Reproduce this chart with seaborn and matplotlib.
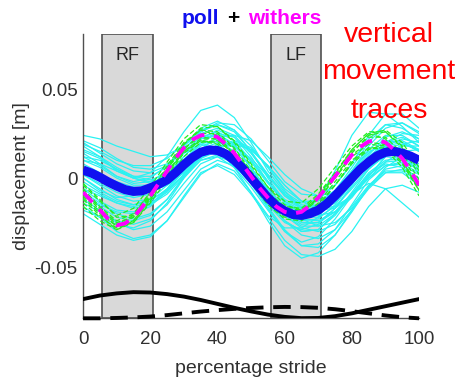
import numpy as np
import pandas as pd
import matplotlib
matplotlib.use("Agg")
import matplotlib.pyplot as plt
import seaborn as sns
from matplotlib.offsetbox import TextArea, HPacker, AnchoredOffsetbox

# ---------------- data (displacement in mm) ----------------
stride_pct = [0, 5, 10, 15, 20, 25, 30, 35, 40, 45, 50, 55, 60, 65, 70, 75, 80, 85, 90, 95, 100]
stride_pct_fine = [0, 2.5, 5, 7.5, 10, 12.5, 15, 17.5, 20, 22.5, 25, 27.5, 30, 32.5, 35, 37.5,
                   40, 42.5, 45, 47.5, 50, 52.5, 55, 57.5, 60, 62.5, 65, 67.5, 70, 72.5, 75,
                   77.5, 80, 82.5, 85, 87.5, 90, 92.5, 95, 97.5, 100]

poll_mean_mm = [4.5, 2.8, 0.5, -2.2, -4.5, -6.5, -7.5, -7.2, -5.5, -3.5, -1, 3, 7.5, 11.5, 14.5,
                15.8, 15.5, 13.5, 10, 5.5, 0, -5.5, -11, -15.5, -18.5, -20.5, -21, -20, -18,
                -14.5, -10, -5, 0, 5, 9, 12.5, 14.5, 15, 14, 12.3, 10]
withers_mean_mm = [-8, -13, -18, -23, -26.5, -25.5, -22, -16.5, -10, -3, 4, 11, 17, 21.5, 24,
                   24.5, 23, 19, 14, 7.5, 1, -5.5, -11, -16, -19, -20, -19, -15.5, -11, -5, 1,
                   7, 13, 17.5, 20.5, 21.5, 20, 16, 11, 4, -4]

poll_traces_mm = [
    [18, 12, 4, 0, 3, 12, 26, 38, 41, 34, 20, 4, -8, -14, -12, -4, 8, 22, 30, 28, 22],
    [24, 22, 18, 15, 12, 13, 18, 26, 31, 30, 22, 10, -2, -9, -10, -4, 8, 24, 36, 36, 28],
    [20, 14, 8, 4, 3, 7, 16, 25, 28, 24, 14, 1, -10, -16, -15, -8, 4, 16, 24, 24, 18],
    [14, 8, 1, -3, -2, 4, 14, 22, 24, 19, 9, -3, -13, -18, -16, -8, 3, 14, 21, 20, 15],
    [10, 6, 0, -4, -4, 0, 8, 16, 20, 18, 11, 1, -9, -15, -16, -11, -2, 9, 17, 19, 16],
    [8, 3, -3, -7, -7, -3, 5, 13, 16, 13, 5, -6, -16, -22, -22, -16, -6, 5, 13, 15, 12],
    [6, 2, -2, -5, -6, -3, 3, 11, 17, 19, 16, 7, -4, -13, -17, -16, -10, 0, 9, 15, 16],
    [2, -3, -8, -11, -9, -3, 7, 16, 18, 13, 2, -10, -19, -23, -20, -11, 0, 10, 15, 13, 8],
    [0, -6, -12, -15, -13, -6, 5, 14, 16, 10, -2, -15, -25, -29, -26, -17, -5, 6, 12, 11, 6],
    [-4, -9, -14, -17, -15, -9, 1, 10, 13, 9, -1, -13, -24, -30, -29, -21, -9, 3, 10, 11, 7],
    [-8, -14, -20, -23, -20, -12, 0, 10, 12, 6, -5, -18, -30, -36, -33, -23, -10, 2, 8, 6, 0],
    [-12, -18, -25, -29, -27, -19, -7, 5, 10, 7, -3, -16, -29, -38, -39, -32, -19, -5, 5, 7, 2],
    [-16, -22, -30, -34, -32, -24, -11, 2, 8, 4, -8, -24, -38, -45, -42, -32, -18, -5, 3, 3, -4],
    [-20, -26, -32, -35, -33, -24, -10, 3, 7, 2, -9, -22, -35, -43, -44, -40, -30, -16, -6, -4, -8],
    [-18, -22, -26, -28, -24, -14, 0, 12, 16, 12, 2, -10, -21, -28, -30, -26, -16, -4, 4, 4, -2],
    [0, -7, -11, -10, -5, 4, 14, 19, 16, 6, -8, -21, -28, -28, -22, -10, 4, 15, 18, 13, 3],
    [-6, -13, -18, -19, -15, -6, 6, 15, 17, 11, 0, -13, -24, -30, -29, -20, -9, -3, -6, -14, -22],
    [12, 10, 5, 0, -3, -2, 4, 12, 18, 20, 16, 7, -4, -13, -18, -17, -10, 1, 12, 19, 21],
    [16, 12, 6, 1, -1, 2, 10, 20, 25, 23, 14, 2, -9, -17, -19, -14, -3, 10, 20, 25, 24],
    [4, -1, -6, -8, -6, 0, 10, 19, 22, 17, 6, -7, -18, -24, -23, -15, -3, 10, 18, 20, 15],
    [-10, -15, -19, -20, -16, -7, 4, 13, 15, 11, 2, -9, -19, -25, -25, -19, -9, 2, 9, 10, 5],
    [10, 8, 4, 0, -2, 0, 7, 16, 23, 24, 21, 12, 2, -6, -10, -8, -1, 9, 18, 22, 20],
    [2, -4, -10, -13, -12, -7, 2, 11, 15, 12, 4, -7, -17, -23, -24, -19, -10, 0, 7, 9, 5],
    [-14, -19, -24, -26, -23, -15, -3, 8, 12, 9, 0, -12, -24, -32, -34, -29, -18, -6, 3, 5, 0],
    [21, 17, 11, 6, 5, 8, 15, 23, 26, 21, 10, -2, -12, -17, -15, -7, 6, 20, 30, 31, 25],
    [6, 2, -3, -6, -4, 2, 12, 22, 27, 23, 12, -2, -14, -20, -12, 4, 24, 37, 36, 29, 20],
    [15, 11, 5, 1, 1, 6, 16, 26, 30, 26, 15, 2, -10, -17, -17, -11, 0, 13, 23, 26, 22],
    [-2, -8, -13, -15, -12, -4, 8, 18, 21, 15, 3, -10, -21, -27, -27, -20, -8, 5, 13, 15, 11],
    [12, 7, 1, -2, 0, 7, 18, 28, 32, 27, 15, 0, -13, -20, -20, -13, -1, 12, 20, 21, 16],
    [-6, -10, -14, -16, -14, -8, 2, 12, 18, 18, 10, -2, -14, -23, -27, -25, -17, -5, 6, 12, 12],
    [7, 1, -5, -8, -6, 1, 12, 22, 25, 19, 6, -8, -20, -26, -25, -17, -4, 10, 20, 23, 18],
    [19, 15, 10, 7, 7, 11, 19, 27, 30, 27, 18, 6, -6, -13, -13, -7, 4, 18, 28, 31, 26],
    [-9, -16, -22, -24, -21, -12, 1, 12, 15, 9, -3, -17, -30, -38, -37, -29, -15, -1, 7, 8, 3],
    [3, 0, -4, -7, -7, -4, 3, 12, 19, 21, 17, 6, -7, -17, -21, -19, -11, 1, 12, 18, 18],
]

withers_traces_mm = [
    [-4, -13, -21, -17, -5, 9, 22, 30, 29, 20, 7, -5, -13, -14, -6, 6, 18, 26, 26, 17, 2],
    [-12, -21, -29, -25, -13, 1, 14, 21, 20, 11, -2, -14, -22, -22, -14, -2, 10, 17, 17, 8, -7],
    [-6, -16, -24, -20, -8, 6, 19, 27, 26, 17, 4, -8, -16, -17, -9, 3, 15, 23, 23, 14, -1],
    [-10, -19, -27, -24, -12, 2, 15, 22, 22, 13, 0, -12, -20, -20, -12, 0, 12, 19, 18, 9, -6],
    [-14, -22, -28, -25, -14, -1, 12, 20, 21, 14, 2, -10, -19, -21, -15, -4, 8, 16, 19, 12, -3],
    [-3, -12, -22, -21, -10, 5, 19, 28, 29, 21, 8, -5, -15, -18, -12, 0, 14, 24, 26, 18, 4],
    [-8, -18, -26, -21, -8, 7, 20, 27, 24, 13, -1, -13, -21, -20, -11, 2, 16, 25, 22, 10, -7],
    [-16, -24, -29, -24, -11, 3, 15, 21, 19, 10, -3, -15, -23, -24, -16, -4, 9, 17, 16, 6, -10],
    [-7, -17, -25, -22, -11, 3, 16, 25, 25, 16, 3, -9, -17, -18, -10, 3, 16, 25, 27, 20, 6],
    [-11, -20, -27, -22, -9, 5, 17, 23, 22, 13, 1, -11, -19, -19, -11, 1, 13, 20, 19, 10, -5],
]

# lower reference curves (mm)
ref_solid_mm = [-68, -66, -64.8, -64.1, -64.3, -65.2, -66.6, -68.5, -70.7, -72.9, -74.9, -76.7,
                -78, -78.7, -78.6, -77.6, -76, -74, -72, -70, -68]
ref_dashed_mm = [-78.8, -78.8, -78.6, -78.3, -77.8, -77, -76, -75, -74.2, -73.5, -73, -72.6,
                 -72.4, -72.5, -72.9, -73.7, -74.8, -76, -77.2, -78.2, -78.8]

stance_labels = ["RF", "LF"]
stance_start = [5.6, 55.8]
stance_end = [20.8, 70.8]

x_ticks = [0, 20, 40, 60, 80, 100]
y_ticks = [-0.05, 0, 0.05]
y_ticklabels = ["-0.05", "0", "0.05"]

side_note_lines = ["vertical", "movement", "traces"]

# ---------------- build tidy frames ----------------
def long_frame(traces):
    rows = []
    for i, tr in enumerate(traces):
        for x, v in zip(stride_pct, tr):
            rows.append((i, x, v / 1000.0))
    return pd.DataFrame(rows, columns=["trace", "stride", "disp"])

poll_df = long_frame(poll_traces_mm)
withers_df = long_frame(withers_traces_mm)
poll_mean_df = pd.DataFrame({"stride": stride_pct_fine, "disp": np.array(poll_mean_mm) / 1000.0})
withers_mean_df = pd.DataFrame({"stride": stride_pct_fine,
                                "disp": np.array(withers_mean_mm) / 1000.0})
solid_df = pd.DataFrame({"stride": stride_pct, "disp": np.array(ref_solid_mm) / 1000.0})
dashed_df = pd.DataFrame({"stride": stride_pct, "disp": np.array(ref_dashed_mm) / 1000.0})

# ---------------- plot ----------------
sns.set_theme(style="white")
plt.rcParams["font.family"] = ["Liberation Sans", "DejaVu Sans"]

fig = plt.figure(figsize=(4.59, 3.81), dpi=100)
ax = fig.add_axes([0.181, 0.165, 0.732, 0.746])

YLO, YHI = -0.0787, 0.0810
ax.set_xlim(0, 100)
ax.set_ylim(YLO, YHI)

for lab, s, e in zip(stance_labels, stance_start, stance_end):
    ax.axvspan(s, e, ymin=0, ymax=1, facecolor="#d9d9d9", edgecolor="#505050",
               linewidth=1.2, zorder=0.5)
    ax.text((s + e) / 2, 0.069, lab, ha="center", va="center", fontsize=13,
            color="#262626", zorder=6)

sns.lineplot(data=poll_df, x="stride", y="disp", units="trace", estimator=None,
             color="#2af2f2", linewidth=0.9, ax=ax, zorder=2)
sns.lineplot(data=withers_df, x="stride", y="disp", units="trace", estimator=None,
             color="#22ee22", linewidth=0.9, linestyle=(0, (4, 2)), ax=ax, zorder=3)
sns.lineplot(data=poll_mean_df, x="stride", y="disp", color="#1010f0", linewidth=6.5,
             ax=ax, zorder=4, solid_capstyle="butt", solid_joinstyle="round")
sns.lineplot(data=withers_mean_df, x="stride", y="disp", color="#ff00ff", linewidth=2.8,
             linestyle=(0, (3.5, 2.5)), ax=ax, zorder=5)
sns.lineplot(data=solid_df, x="stride", y="disp", color="black", linewidth=2.8, ax=ax, zorder=4)
sns.lineplot(data=dashed_df, x="stride", y="disp", color="black", linewidth=2.8,
             linestyle=(0, (4.5, 2.5)), ax=ax, zorder=4, clip_on=False)

ax.set_xticks(x_ticks)
ax.set_yticks(y_ticks)
ax.set_yticklabels(y_ticklabels)
ax.tick_params(axis="both", direction="in", length=3, width=0.8, color="#404040",
               labelsize=13.5, labelcolor="#303030")
ax.tick_params(axis="x", pad=9)
ax.tick_params(axis="y", pad=4)
ax.set_xlabel("percentage stride", fontsize=14, color="#303030", labelpad=9)
ax.set_ylabel("displacement [m]", fontsize=14, color="#303030", labelpad=3)

for side in ["top", "right"]:
    ax.spines[side].set_visible(False)
for side in ["left", "bottom"]:
    ax.spines[side].set_color("#505050")
    ax.spines[side].set_linewidth(1.0)
ax.set_facecolor("white")

# multi-coloured title
parts = [TextArea("poll", textprops=dict(color="#1010ee", fontsize=15, fontweight="bold")),
         TextArea("+", textprops=dict(color="black", fontsize=15, fontweight="bold")),
         TextArea("withers", textprops=dict(color="#ff00ff", fontsize=15, fontweight="bold"))]
box = HPacker(children=parts, align="baseline", pad=0, sep=6)
anch = AnchoredOffsetbox(loc="lower center", child=box, pad=0, frameon=False,
                         bbox_to_anchor=(0.5, 1.02), bbox_transform=ax.transAxes,
                         borderpad=0)
ax.add_artist(anch)

for line, yb in zip(side_note_lines, [0.890, 0.793, 0.690]):
    fig.text(0.8475, yb, line, ha="center", va="baseline", fontsize=20.5, color="#ff0000")

fig.savefig("out.png", dpi=100, facecolor="white")
